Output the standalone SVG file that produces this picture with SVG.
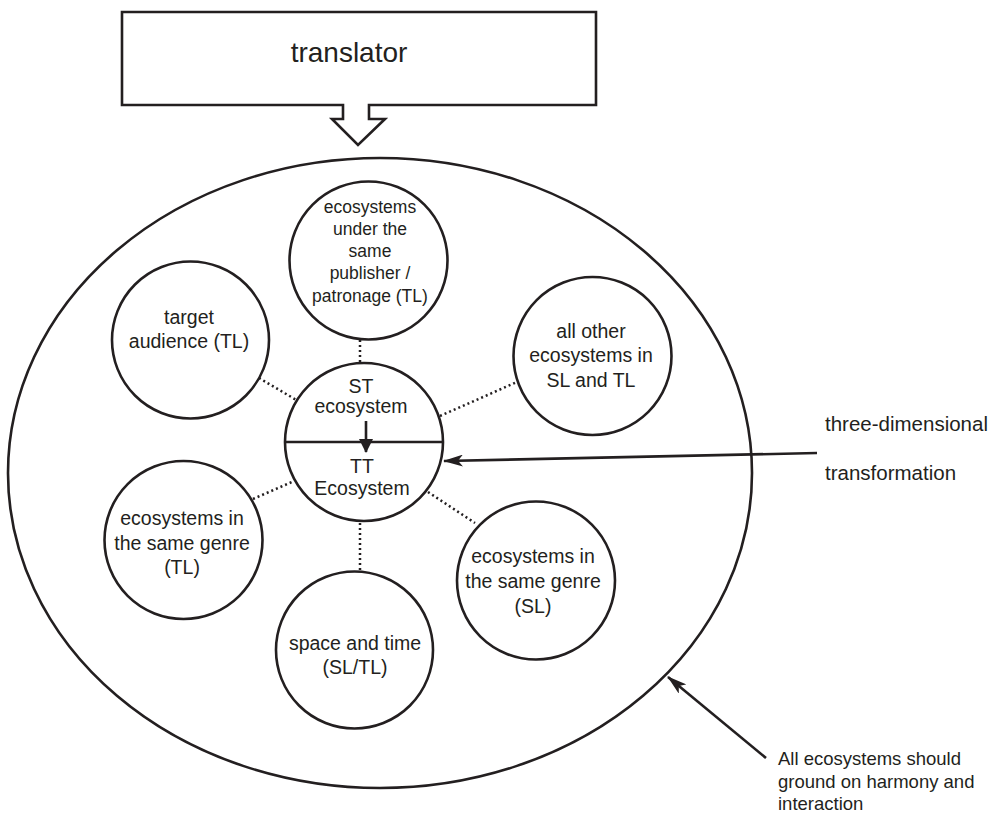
<svg xmlns="http://www.w3.org/2000/svg" width="999" height="813" viewBox="0 0 999 813">
<style>
.shape{fill:#fff;stroke:#231f20;stroke-width:2.6}
.dot{stroke:#231f20;stroke-width:2.5;stroke-dasharray:2 3;fill:none}
.arr{stroke:#231f20;stroke-width:2.6;fill:none}
text{font-family:"Liberation Sans",Arial,sans-serif;fill:#231f20;text-anchor:middle}
.lbl{text-anchor:start}
</style>
<defs>
<marker id="ah" viewBox="0 0 20 12" refX="19" refY="6" markerWidth="20" markerHeight="12" markerUnits="userSpaceOnUse" orient="auto">
<path d="M0,0 L20,6 L0,12 L5,6 Z" fill="#231f20"/>
</marker>
<marker id="ahs" viewBox="0 0 14 14" refX="13" refY="7" markerWidth="14" markerHeight="14" markerUnits="userSpaceOnUse" orient="auto">
<path d="M0,0 L14,7 L0,14 Z" fill="#231f20"/>
</marker>
</defs>
<rect width="999" height="813" fill="#fff"/>
<g id="translator">
<path class="shape" stroke-width="3" d="M122,12 L596,12 L596,105 L369,105 L369,119 L385,119 L358,145 L332,119 L343,119 L343,105 L122,105 Z"/>
<text x="349" y="62" font-size="28">translator</text>
</g>
<g id="outer">
<ellipse class="shape" cx="380" cy="473" rx="372" ry="315"/>
</g>
<g id="connectors">
<line class="dot" x1="360" y1="340" x2="360" y2="362"/>
<line class="dot" x1="259" y1="378" x2="298" y2="401"/>
<line class="dot" x1="440" y1="416" x2="517" y2="382"/>
<line class="dot" x1="253" y1="499" x2="292" y2="482"/>
<line class="dot" x1="428" y1="492" x2="475" y2="523"/>
<line class="dot" x1="360" y1="523" x2="360" y2="571"/>
<line class="arr" x1="817" y1="453" x2="444" y2="461" marker-end="url(#ah)"/>
<line class="arr" x1="766" y1="758" x2="668" y2="677" marker-end="url(#ah)"/>
</g>
<g id="publisher">
<circle class="shape" cx="368.5" cy="260.5" r="79"/>
<text x="370" y="213" font-size="17.5">ecosystems</text>
<text x="370" y="235" font-size="17.5">under the</text>
<text x="370" y="257" font-size="17.5">same</text>
<text x="370" y="279" font-size="17.5">publisher /</text>
<text x="370" y="302" font-size="17.5">patronage (TL)</text>
</g>
<g id="target">
<circle class="shape" cx="190.5" cy="340" r="78.5"/>
<text x="189" y="324" font-size="19.5">target</text>
<text x="189" y="348" font-size="19.5">audience (TL)</text>
</g>
<g id="allother">
<circle class="shape" cx="592.5" cy="356" r="79"/>
<text x="591" y="338" font-size="19.5">all other</text>
<text x="591" y="362" font-size="19.5">ecosystems in</text>
<text x="591" y="387" font-size="19.5">SL and TL</text>
</g>
<g id="center">
<circle class="shape" cx="364" cy="442" r="79"/>
<line x1="285" y1="442" x2="443" y2="442" stroke="#231f20" stroke-width="2.6"/>
<line x1="366" y1="421" x2="366" y2="452" stroke="#231f20" stroke-width="2.6" marker-end="url(#ahs)"/>
<text x="361" y="393" font-size="19.5">ST</text>
<text x="361" y="413" font-size="19.5">ecosystem</text>
<text x="362" y="473" font-size="19.5">TT</text>
<text x="362" y="495" font-size="19.5">Ecosystem</text>
</g>
<g id="genreTL">
<circle class="shape" cx="183.5" cy="540" r="79"/>
<text x="182" y="525" font-size="19.5">ecosystems in</text>
<text x="182" y="550" font-size="19.5">the same genre</text>
<text x="182" y="574" font-size="19.5">(TL)</text>
</g>
<g id="genreSL">
<circle class="shape" cx="536" cy="580.5" r="79"/>
<text x="533" y="563" font-size="19.5">ecosystems in</text>
<text x="533" y="588" font-size="19.5">the same genre</text>
<text x="533" y="613" font-size="19.5">(SL)</text>
</g>
<g id="spacetime">
<circle class="shape" cx="354.5" cy="650" r="78.5"/>
<text x="355" y="650" font-size="19.5">space and time</text>
<text x="355" y="674" font-size="19.5">(SL/TL)</text>
</g>
<g id="labels">
<text class="lbl" x="825" y="431" font-size="20.5">three-dimensional</text>
<text class="lbl" x="825" y="480" font-size="20.5">transformation</text>
<text class="lbl" x="778" y="765" font-size="18.5">All ecosystems should</text>
<text class="lbl" x="778" y="788" font-size="18.5">ground on harmony and</text>
<text class="lbl" x="778" y="810" font-size="18.5">interaction</text>
</g>
</svg>
